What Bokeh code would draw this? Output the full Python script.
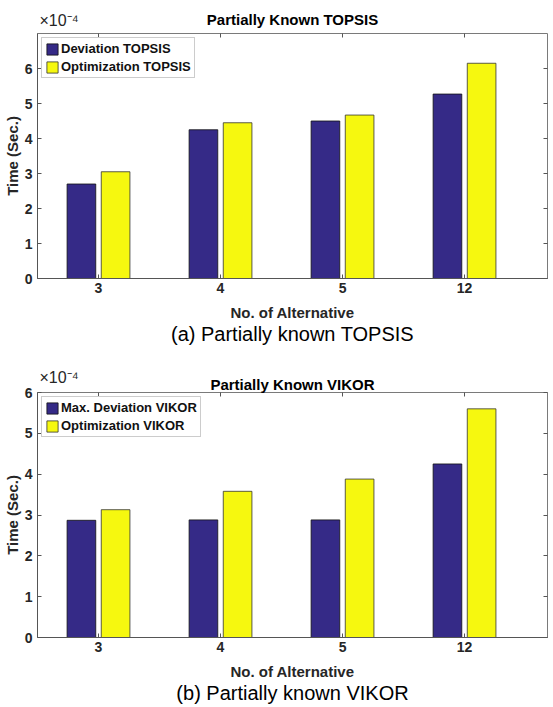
from bokeh.plotting import figure
from bokeh.models import (ColumnDataSource, Range1d, FixedTicker, LinearAxis, Title, Legend, LegendItem)
from bokeh.layouts import column
from bokeh.embed import file_html
from bokeh.resources import INLINE
import numpy as np

categories = ["3", "4", "5", "12"]
y_ticks = [0, 1, 2, 3, 4, 5, 6]

# values in units of 1e-4 s
dev_topsis = [2.70, 4.25, 4.50, 5.27]
opt_topsis = [3.05, 4.45, 4.67, 6.15]
dev_vikor = [2.87, 2.88, 2.88, 4.25]
opt_vikor = [3.13, 3.58, 3.88, 5.60]

DARK = "#352a87"
YEL = "#f6f80f"
AX = "#262626"
FONT = "Liberation Sans"


def make_chart(title, caption, dev, opt, dev_label, opt_label, ymax,
               top_border, bottom_border, title_standoff, exp_standoff):
    x = np.arange(1, len(categories) + 1)
    src = ColumnDataSource(dict(x=x, xd=x - 0.14, xo=x + 0.14, dev=dev, opt=opt))
    p = figure(frame_width=510, frame_height=245, output_backend="svg", toolbar_location=None,
               x_range=Range1d(0.5, 4.68), y_range=Range1d(0, ymax),
               min_border_left=36, min_border_right=6, min_border_top=top_border,
               min_border_bottom=bottom_border)
    p.title.text = title
    p.title.align = "center"
    p.title.text_font = FONT
    p.title.text_font_size = "15px"
    p.title.text_font_style = "bold"
    p.title.text_color = "#000000"
    p.title.standoff = title_standoff
    p.title.offset = 0

    r1 = p.vbar(x="xd", top="dev", width=0.235, source=src, fill_color=DARK, line_color="#111111", line_width=0.8)
    r2 = p.vbar(x="xo", top="opt", width=0.235, source=src, fill_color=YEL, line_color="#333333", line_width=0.8)

    p.xgrid.visible = False
    p.ygrid.visible = False
    p.outline_line_color = "#7a7a7a"
    p.outline_line_width = 1

    for ax in p.xaxis:
        ax.ticker = FixedTicker(ticks=list(x))
        ax.major_label_overrides = {int(i): c for i, c in zip(x, categories)}
        ax.axis_label = "No. of Alternative"
        ax.axis_label_standoff = 8
        ax.major_label_standoff = 4
    for ax in p.yaxis:
        ax.ticker = FixedTicker(ticks=y_ticks)
        ax.axis_label = "Time (Sec.)"
        ax.axis_label_standoff = 1
        ax.major_label_standoff = 5
    for ax in list(p.xaxis) + list(p.yaxis):
        ax.axis_label_text_font = FONT
        ax.axis_label_text_font_size = "15px"
        ax.axis_label_text_font_style = "bold"
        ax.axis_label_text_color = AX
        ax.major_label_text_font = FONT
        ax.major_label_text_font_size = "14px"
        ax.major_label_text_font_style = "bold"
        ax.major_label_text_color = AX
        ax.major_tick_in = 4
        ax.major_tick_out = 0
        ax.minor_tick_line_color = None
        ax.axis_line_color = "#555555"
        ax.major_tick_line_color = "#555555"

    top_ax = LinearAxis(ticker=FixedTicker(ticks=list(x)), major_label_text_color=None,
                        major_label_text_font_size="1px",
                        major_tick_in=4, major_tick_out=0, minor_tick_line_color=None,
                        axis_line_color=None, major_tick_line_color="#555555", major_label_standoff=0)
    right_ax = LinearAxis(ticker=FixedTicker(ticks=y_ticks), major_label_text_color=None,
                          major_label_text_font_size="1px",
                          major_tick_in=4, major_tick_out=0, minor_tick_line_color=None,
                          axis_line_color=None, major_tick_line_color="#555555", major_label_standoff=0)
    p.add_layout(top_ax, "above")
    p.add_layout(right_ax, "right")

    exp_title = Title(text="×10⁻⁴", align="left", text_font=FONT, text_font_size="16px",
                      text_font_style="normal", text_color=AX, standoff=exp_standoff, offset=2)
    p.add_layout(exp_title, "above")

    legend = Legend(items=[LegendItem(label=dev_label, renderers=[r1]),
                           LegendItem(label=opt_label, renderers=[r2])],
                    location="top_left", label_text_font=FONT, label_text_font_size="13px",
                    label_text_font_style="bold", label_text_color="#111111",
                    glyph_width=14, glyph_height=14, label_height=14, label_standoff=2,
                    spacing=3, padding=3, margin=4, border_line_color="#9a9a9a",
                    border_line_width=1, background_fill_alpha=1)
    p.add_layout(legend, "center")

    cap = Title(text=caption, align="center", text_font=FONT, text_font_size="20px",
                text_font_style="normal", text_color="#000000", standoff=-6, offset=0)
    p.add_layout(cap, "below")
    return p


p1 = make_chart("Partially Known TOPSIS", "(a) Partially known TOPSIS", dev_topsis, opt_topsis,
                "Deviation TOPSIS", "Optimization TOPSIS", 7, 33, 77, -46, 10)
p2 = make_chart("Partially Known VIKOR", "(b) Partially known VIKOR", dev_vikor, opt_vikor,
                "Max. Deviation VIKOR", "Optimization VIKOR", 6, 37, 69, -66, 14)

layout = column(p1, p2, spacing=0)
open("out.html", "w").write(file_html(layout, INLINE))
